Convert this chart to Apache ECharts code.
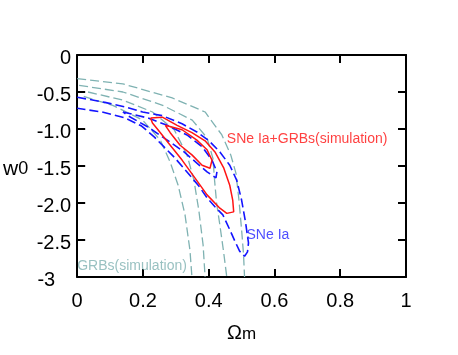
<!DOCTYPE html>
<html>
<head>
<meta charset="utf-8">
<script src="https://cdn.jsdelivr.net/npm/echarts@6/dist/echarts.min.js"></script>
<style>html,body{margin:0;padding:0;background:#fff}#c{width:458px;height:355px}</style>
</head>
<body>
<div id="c"></div>
<script>
// ---- tick labels ----
const xTickLabels = ['0', '0.2', '0.4', '0.6', '0.8', '1'];
const yTickLabels = ['0', '-0.5', '-1.0', '-1.5', '-2.0', '-2.5', '-3'];

// ---- GRBs (simulation) contours, teal dashed [Omega_m, w0] ----
const grbOuterUpper = [[0,-0.32],[0.139,-0.39],[0.289,-0.58],[0.389,-0.77],[0.44,-1.08],[0.467,-1.35],[0.483,-1.6],[0.492,-1.96],[0.5,-2.36],[0.506,-2.7],[0.509,-3.0]];
const grbInnerUpper = [[0.006,-0.41],[0.139,-0.5],[0.26,-0.68],[0.35,-0.88],[0.395,-1.12],[0.413,-1.4],[0.418,-1.7],[0.424,-2.0],[0.434,-2.3],[0.445,-2.65],[0.455,-3.0]];
const grbInnerLower = [[0.033,-0.5],[0.139,-0.61],[0.229,-0.77],[0.295,-1.01],[0.334,-1.35],[0.355,-1.69],[0.37,-2.1],[0.383,-2.57],[0.389,-3.0]];
const grbOuterLower = [[0.02,-0.56],[0.108,-0.68],[0.199,-0.88],[0.253,-1.15],[0.283,-1.45],[0.307,-1.76],[0.328,-2.16],[0.343,-2.64],[0.349,-3.0]];

// ---- SNe Ia contours, blue dashed ----
const snOuter = [[0,-0.57],[0.084,-0.64],[0.145,-0.7],[0.199,-0.77],[0.259,-0.82],[0.319,-0.93],[0.364,-1.04],[0.401,-1.16],[0.434,-1.31],[0.464,-1.49],[0.485,-1.69],[0.5,-1.96],[0.512,-2.26],[0.521,-2.54],[0.518,-2.66],[0.509,-2.72],[0.494,-2.65],[0.479,-2.51],[0.464,-2.36],[0.443,-2.16],[0.419,-2.05],[0.395,-1.93],[0.37,-1.77],[0.334,-1.58],[0.295,-1.38],[0.235,-1.11],[0.196,-0.96],[0.145,-0.85],[0.075,-0.77],[0,-0.72]];
const snInner = [[0.139,-0.77],[0.214,-0.85],[0.274,-0.95],[0.334,-1.08],[0.38,-1.24],[0.41,-1.42],[0.425,-1.58],[0.422,-1.66],[0.395,-1.58],[0.364,-1.46],[0.325,-1.31],[0.274,-1.15],[0.214,-0.97],[0.154,-0.82],[0.139,-0.77]];

// ---- SNe Ia + GRBs (simulation) contours, red solid ----
const combOuter = [[0.223,-0.85],[0.259,-0.84],[0.304,-0.95],[0.349,-1.05],[0.389,-1.16],[0.419,-1.31],[0.446,-1.53],[0.464,-1.76],[0.473,-1.96],[0.476,-2.12],[0.455,-2.14],[0.434,-2.07],[0.395,-1.89],[0.358,-1.66],[0.319,-1.42],[0.283,-1.22],[0.253,-1.05],[0.229,-0.92],[0.223,-0.85]];
const combInner = [[0.268,-0.95],[0.319,-1.01],[0.364,-1.15],[0.395,-1.28],[0.41,-1.42],[0.404,-1.53],[0.38,-1.49],[0.349,-1.35],[0.313,-1.22],[0.283,-1.05],[0.268,-0.95]];

// ---- annotations ----
const annotations = [
  {name: 'SNe Ia+GRBs(simulation)', value: [0.455, -1.135], color: '#ff1010'},
  {name: 'SNe Ia', value: [0.515, -2.43], color: '#2020ff'},
  {name: 'GRBs(simulation)', value: [0.0, -2.85], color: '#7fb2b2'}
];

const TEAL = '#7fb2b2', BLUE = '#1414ff', RED = '#ff1414';
const FONT = 'Liberation Sans, Arial, Helvetica, sans-serif';

function contour(data, color, dashed, z, width) {
  return {
    type: 'line', data: data, showSymbol: false, symbol: 'none', smooth: false,
    lineStyle: {color: color, width: width, type: dashed ? [9, 4] : 'solid'},
    z: z, animation: false, silent: true
  };
}

const frameAxis = {
  axisLine: {show: true, onZero: false, lineStyle: {color: '#000', width: 2}},
  axisTick: {show: true, inside: true, length: 8, lineStyle: {color: '#000', width: 2}},
  splitLine: {show: false}
};

const option = {
  animation: false,
  grid: {left: 74, right: 52, top: 55, bottom: 78},
  xAxis: [
    Object.assign({}, frameAxis, {
      type: 'value', min: 0, max: 1, interval: 0.2, position: 'bottom',
      axisLabel: {fontSize: 20, color: '#000', fontFamily: FONT, margin: 14,
        formatter: v => xTickLabels[Math.round(v / 0.2)]},
      name: '{o|Ω}{m|m}', nameLocation: 'middle', nameGap: 46,
      nameTextStyle: {rich: {o: {fontSize: 20, fontFamily: FONT, color: '#000'}, m: {fontSize: 17, fontFamily: FONT, color: '#000', padding: [3, 0, 0, 0]}}}
    }),
    Object.assign({}, frameAxis, {
      type: 'value', min: 0, max: 1, interval: 0.2, position: 'top',
      axisLabel: {show: false}
    })
  ],
  yAxis: [
    Object.assign({}, frameAxis, {
      type: 'value', min: -3, max: 0, interval: 0.5, position: 'left',
      axisLabel: {fontSize: 20, color: '#000', fontFamily: FONT, margin: 6,
        formatter: v => {
          const s = yTickLabels[Math.round(-v / 0.5)];
          return s === '-3' ? '{p|' + s + '}' : '{n|' + s + '}';
        },
        rich: {
          n: {fontSize: 20, fontFamily: FONT, color: '#000', padding: [6, 0, 0, 0]},
          p: {fontSize: 20, fontFamily: FONT, color: '#000', padding: [6, 16, 0, 0]}
        }},
      name: '{w|w}{z|0}', nameLocation: 'middle', nameGap: 49, nameRotate: 0,
      nameTextStyle: {align: 'right', rich: {w: {fontSize: 21, fontFamily: FONT, color: '#000', padding: [6, 0, 0, 0]}, z: {fontSize: 18, fontFamily: FONT, color: '#000', padding: [6, 0, 0, 0]}}}
    }),
    Object.assign({}, frameAxis, {
      type: 'value', min: -3, max: 0, interval: 0.5, position: 'right',
      axisLabel: {show: false}
    })
  ],
  series: [
    contour(grbOuterUpper, TEAL, true, 1, 1.3),
    contour(grbInnerUpper, TEAL, true, 1, 1.3),
    contour(grbInnerLower, TEAL, true, 1, 1.3),
    contour(grbOuterLower, TEAL, true, 1, 1.3),
    contour(snOuter, BLUE, true, 2, 1.6),
    contour(snInner, BLUE, true, 2, 1.6),
    contour(combOuter, RED, false, 3, 1.5),
    contour(combInner, RED, false, 3, 1.5),
    {
      type: 'scatter', symbolSize: 0, silent: true, z: 5, animation: false,
      data: annotations.map(a => ({name: a.name, value: a.value,
        label: {show: true, position: 'right', distance: 0, formatter: '{b}', color: a.color, fontSize: 14, fontFamily: FONT}}))
    }
  ]
};

const chart = echarts.init(document.getElementById('c'), null, {renderer: 'canvas'});
chart.setOption(option);
</script>
</body>
</html>
